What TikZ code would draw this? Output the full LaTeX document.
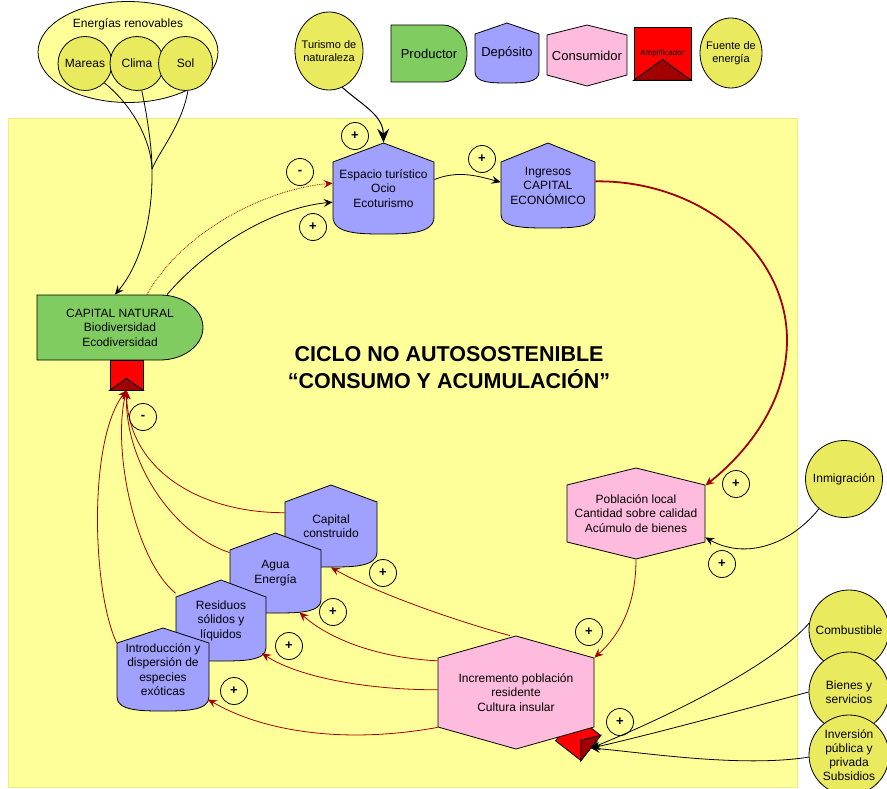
\documentclass[tikz,border=0pt]{standalone}
\usepackage{fontspec}
\setmainfont{Liberation Sans}
\usetikzlibrary{arrows.meta, shapes.geometric, calc}

\definecolor{colFondo}{HTML}{FFFF99}
\definecolor{colBorde}{HTML}{EEEE80}
\definecolor{colFuente}{HTML}{EAEA5E}
\definecolor{colDep}{HTML}{A0A0FF}
\definecolor{colProd}{HTML}{80CC60}
\definecolor{colCons}{HTML}{FFBBDD}
\definecolor{colRojo}{HTML}{FF0000}
\definecolor{colGranate}{HTML}{A00000}

\newcommand{\ley}{\fontsize{13}{15}\selectfont}

\newcommand{\tanque}[8]{%
  \filldraw[fill=colDep] (#2-#3,#5) -- (#2,#4) -- (#2+#3,#5) -- (#2+#3,#6)
    .. controls (#2+#3,#7) and (#2+0.45*#3,#7) .. (#2,#7)
    .. controls (#2-0.45*#3,#7) and (#2-#3,#7) .. (#2-#3,#6) -- cycle;
  \node[box, minimum width=2*#3, minimum height=#7-#4] (#1) at (#2,{(#4+#7)/2}) {#8};}

\newcommand{\productora}[7]{%
  \filldraw[fill=colProd] (#2,#5) -- (#3,#5)
    .. controls ({#3+0.55*(#4-#3)},#5) and (#4,{#5+0.225*(#6-#5)}) .. (#4,{(#5+#6)/2})
    .. controls (#4,{#6-0.225*(#6-#5)}) and ({#3+0.55*(#4-#3)},#6) .. (#3,#6)
    -- (#2,#6) -- cycle;
  \node[box, minimum width=#4-#2, minimum height=#6-#5] (#1) at ({(#2+#4)/2},{(#5+#6)/2}) {#7};}

\newcommand{\hexagono}[8]{%
  \filldraw[fill=colCons] (#2,#4) -- (#2+#3,#5) -- (#2+#3,#6) -- (#2,#7) -- (#2-#3,#6) -- (#2-#3,#5) -- cycle;
  \node[box, minimum width=2*#3, minimum height=#7-#4] (#1) at (#2,{(#4+#7)/2}) {#8};}

\newcommand{\amplif}[7]{%
  \node[draw, fill=colRojo, minimum width=#4, minimum height=#5, inner sep=0pt, rotate=#6,
    font=\fontsize{8}{9}\selectfont] (#1) at (#2,#3) {#7};
  \filldraw[fill=colGranate] (#1.south west) -- ($(#1.south)!0.78!(#1.center)$) -- (#1.south east) -- cycle;}

\begin{document}
\begin{tikzpicture}[x=1pt, y=-1pt, line width=0.8pt,
  box/.style={inner sep=1pt, align=center, font=\fontsize{12}{14.5}\selectfont},
  fuente/.style={circle, draw, fill=colFuente, inner sep=1pt, align=center, font=\fontsize{12}{14}\selectfont},
  signo/.style={circle, draw, minimum size=27pt, inner sep=0pt, font=\bfseries\fontsize{13}{13}\selectfont},
  flecha/.style={-{Stealth[length=9pt, width=8pt, inset=3.5pt]}},
  roja/.style={flecha, colGranate},
  gruesa/.style={-{Stealth[length=14pt, width=12pt, inset=5pt]}, line width=1pt}]
\useasboundingbox (0,0) rectangle (887,789);
\filldraw[fill=colFondo, draw=colBorde, line width=1pt] (8,119) rectangle (797,787);

\node[ellipse, draw, fill=colFondo, minimum width=180pt, minimum height=101pt] (renov) at (128,52) {};
\node[box] (renovT) at (128,24) {Energías renovables};
\node[fuente, minimum size=54pt] (mar) at (85,63.5) {Mareas};
\node[fuente, minimum size=54pt] (cli) at (137,63.5) {Clima};
\node[fuente, minimum size=54pt] (sol) at (185.5,63.5) {Sol};
\coordinate (jn) at (152,169);

\node[fuente, ellipse, minimum width=68pt, minimum height=78pt] (tur) at (329,51) {};
\node[box, font=\fontsize{11}{13.5}\selectfont] (turT) at (tur) {Turismo de\\naturaleza};

\productora{leyP}{391}{443}{467}{25}{82}{\ley Productor}
\tanque{leyD}{507}{32}{23}{34}{72}{83}{\ley Depósito}
\hexagono{leyC}{587}{40}{25}{35}{75}{86}{\ley Consumidor}
\amplif{leyA}{662.5}{53.5}{57}{53}{0}{Amplificador}
\node[fuente, ellipse, minimum width=62pt, minimum height=70pt] (leyF) at (731,53) {};
\node[box, font=\fontsize{11}{13.5}\selectfont] (leyFT) at (leyF) {Fuente de\\energía};

\productora{capN}{37}{160}{203}{295}{360}{CAPITAL NATURAL\\Biodiversidad\\Ecodiversidad}
\amplif{ampN}{126.5}{375}{33}{30}{0}{}
\tanque{esp}{383.5}{50.5}{143}{162}{217}{234}{Espacio turístico\\Ocio\\Ecoturismo}
\tanque{ing}{548}{47}{143}{162}{215}{228}{Ingresos\\CAPITAL\\ECONÓMICO}
\tanque{cc}{331}{46}{485}{502}{552}{567}{Capital\\construido}
\tanque{agua}{275.5}{45.5}{533}{550}{600}{613}{Agua\\Energía}
\tanque{res}{221}{45}{580}{597}{648}{661}{Residuos\\sólidos y\\líquidos}
\tanque{intro}{163}{46}{628}{643}{697}{711}{Introducción y\\dispersión de\\especies\\exóticas}
\hexagono{pobl}{636}{69}{468}{485}{542}{559}{Población local\\Cantidad sobre calidad\\Acúmulo de bienes}
\amplif{amp2}{578}{738}{32}{32}{52}{}
\hexagono{incr}{516}{78}{636}{658}{727}{749}{Incremento población\\residente\\Cultura insular}

\node[fuente, minimum size=77pt] (inm) at (844,479) {Inmigración};
\node[fuente, minimum size=80pt] (comb) at (849,630) {Combustible};
\node[fuente, minimum size=80pt] (bien) at (849,692) {Bienes y\\servicios};
\node[fuente, minimum size=80pt] (inv) at (849,755) {Inversión\\pública y\\privada\\Subsidios};

\draw (mar.-45) .. controls (132,105) and (151,140) .. (jn);
\draw (cli.-80) .. controls (148,120) and (152,150) .. (jn);
\draw (sol.-85) .. controls (182,125) and (160,150) .. (jn);
\draw[flecha] (jn) .. controls (153,220) and (140,265) .. ([xshift=-5pt]capN.north);
\draw[gruesa] (tur.-70) .. controls (362,105) and (383,115) .. (esp.north);
\draw[flecha] (esp.10) .. controls (458,170) and (478,176) .. (ing.176);
\draw[roja, densely dotted] ([xshift=27pt]capN.north) .. controls (180,235) and (260,190) .. (esp.174);
\draw[flecha] ([xshift=47pt]capN.north) .. controls (205,250) and (270,208) .. (esp.195);
\draw[roja, line width=1.8pt] (ing.5) .. controls (700,180) and (787,252) .. (787,340)
  .. controls (787,400) and (750,450) .. (pobl.22);
\draw[roja] (pobl.south) .. controls (636,605) and (620,635) .. (incr.24);
\draw[flecha] (inm.-130) .. controls (790,545) and (745,560) .. (pobl.-19);
\draw[flecha] (comb.170) .. controls (770,668) and (660,720) .. (amp2.south);
\draw[flecha] (bien.180) .. controls (760,705) and (650,735) .. (amp2.south);
\draw[flecha] (inv.183) .. controls (740,768) and (640,752) .. (amp2.south);
\draw[roja] (cc.164) .. controls (200,513) and (128,470) .. (ampN.south);
\draw[roja] (agua.156) .. controls (175,535) and (125,465) .. (ampN.south);
\draw[roja] (res.149) .. controls (135,560) and (112,450) .. (ampN.south);
\draw[roja] (intro.150) .. controls (92,590) and (88,440) .. (ampN.south);
\draw[roja] ([xshift=-6pt]incr.north) .. controls (460,622) and (380,595) .. (cc.south);
\draw[roja] (incr.158) .. controls (380,658) and (330,640) .. ($(agua.south)+(24,-1)$);
\draw[roja] (incr.178) .. controls (370,690) and (300,678) .. ($(res.south)+(41,-8)$);
\draw[roja] (incr.204) .. controls (340,745) and (260,730) .. ($(intro.south)+(45,-12)$);

\node[signo] (s1) at (355,136) {+};
\node[signo] (s2) at (482,159) {+};
\node[signo] (s3) at (300,172) {-};
\node[signo] (s4) at (313,227) {+};
\node[signo] (s5) at (143,417) {-};
\node[signo] (s6) at (736,484) {+};
\node[signo] (s7) at (722,564) {+};
\node[signo] (s8) at (589,632) {+};
\node[signo] (s9) at (620,722) {+};
\node[signo] (s10) at (383,573) {+};
\node[signo] (s11) at (333,612) {+};
\node[signo] (s12) at (289,646) {+};
\node[signo] (s13) at (234,691) {+};

\node[align=center, font=\bfseries\fontsize{21.5}{27}\selectfont] (titulo) at (449,368)
  {CICLO NO AUTOSOSTENIBLE\\“CONSUMO Y ACUMULACIÓN”};
\end{tikzpicture}
\end{document}
